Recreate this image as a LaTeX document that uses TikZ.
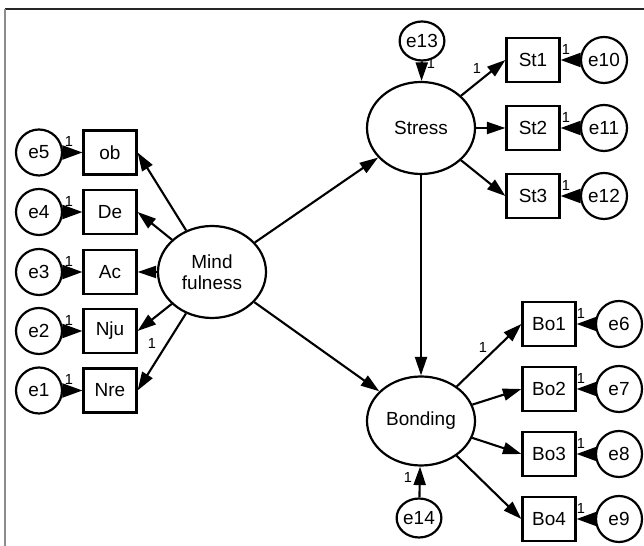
\documentclass[tikz,border=0pt]{standalone}
\usepackage{fontspec}
\setmainfont{Liberation Sans}
\usepackage{tikz}
\usetikzlibrary{shapes.geometric, arrows.meta}

\tikzset{
    latent/.style={draw, ellipse, line width=1.25pt, minimum width=2.16cm, minimum height=1.84cm, inner sep=0pt, align=center},
    obs/.style={draw, rectangle, line width=1.25pt, minimum width=1.06cm, minimum height=0.88cm, inner sep=0pt},
    err/.style={draw, circle, line width=1.25pt, minimum size=0.92cm, inner sep=0pt},
    smallerr/.style={draw, ellipse, line width=1.25pt, minimum width=0.84cm, minimum height=0.78cm, inner sep=0pt},
    regarrow/.style={line width=1.2pt, -{Triangle[length=3.7mm, width=2.4mm]}},
    errarrow/.style={line width=1.2pt, -{Triangle[length=4mm, width=2.8mm]}},
    one/.style={font=\fontsize{8.3}{10}\selectfont, inner sep=0pt},
}

\begin{document}
\begin{tikzpicture}[font=\fontsize{10.8}{12.2}\selectfont]
            \useasboundingbox (0,0) rectangle (12.88,10.92);
            \draw[black!85, line width=1pt] (0.1,10.74) -- (12.88,10.74);
            \draw[black!45, line width=1pt] (0.1,10.74) -- (0.1,0);

            % latent variables
            \node[latent] (mind) at (4.24, 5.48) {Mind\\fulness};
            \node[latent] (stress) at (8.42, 8.36) {Stress};
            \node[latent, minimum height=1.78cm] (bond) at (8.42, 2.50) {Bonding};

            % mindfulness indicators
            \node[obs] (ob) at (2.20, 7.87) {ob};
            \node[obs] (de) at (2.20, 6.68) {De};
            \node[obs] (ac) at (2.20, 5.48) {Ac};
            \node[obs] (nju) at (2.20, 4.30) {Nju};
            \node[obs] (nre) at (2.20, 3.11) {Nre};
            \node[err] (e5) at (0.78, 7.87) {e5};
            \node[err] (e4) at (0.78, 6.68) {e4};
            \node[err] (e3) at (0.78, 5.48) {e3};
            \node[err] (e2) at (0.78, 4.30) {e2};
            \node[err] (e1) at (0.78, 3.11) {e1};

            % stress indicators
            \node[obs] (st1) at (10.66, 9.72) {St1};
            \node[obs] (st2) at (10.66, 8.36) {St2};
            \node[obs] (st3) at (10.66, 7.00) {St3};
            \node[err] (e10) at (12.08, 9.72) {e10};
            \node[err] (e11) at (12.08, 8.36) {e11};
            \node[err] (e12) at (12.08, 7.00) {e12};

            % bonding indicators
            \node[obs] (bo1) at (10.98, 4.44) {Bo1};
            \node[obs] (bo2) at (10.98, 3.14) {Bo2};
            \node[obs] (bo3) at (10.98, 1.84) {Bo3};
            \node[obs] (bo4) at (10.98, 0.54) {Bo4};
            \node[err] (e6) at (12.38, 4.44) {e6};
            \node[err] (e7) at (12.38, 3.14) {e7};
            \node[err] (e8) at (12.38, 1.84) {e8};
            \node[err] (e9) at (12.38, 0.54) {e9};

            % disturbances
            \node[smallerr] (e13) at (8.44, 10.10) {e13};
            \node[smallerr] (e14) at (8.38, 0.56) {e14};

            \draw[regarrow] (mind) -- (stress); % mind-stress
            \draw[regarrow] (mind) -- (bond); % mind-bond
            \draw[regarrow] (stress) -- (bond); % stress-bond
            \draw[regarrow] (e13) -- (stress);
            \draw[regarrow] (e14) -- (bond);

            \draw[regarrow] (mind) -- (ob.east);
            \draw[regarrow] (mind) -- (de.east);
            \draw[regarrow] (mind) -- (ac.east);
            \draw[regarrow] (mind) -- (nju.east);
            \draw[regarrow] (mind) -- (nre.east);

            \draw[regarrow] (stress) -- (st1.west);
            \draw[regarrow] (stress) -- (st2.west);
            \draw[regarrow] (stress) -- (st3.west);

            \draw[regarrow] (bond) -- (bo1.west);
            \draw[regarrow] (bond) -- (bo2.west);
            \draw[regarrow] (bond) -- (bo3.west);
            \draw[regarrow] (bond) -- (bo4.west);

            \draw[errarrow] (e5) -- (ob);
            \draw[errarrow] (e4) -- (de);
            \draw[errarrow] (e3) -- (ac);
            \draw[errarrow] (e2) -- (nju);
            \draw[errarrow] (e1) -- (nre);
            \draw[errarrow] (e10) -- (st1);
            \draw[errarrow] (e11) -- (st2);
            \draw[errarrow] (e12) -- (st3);
            \draw[errarrow] (e6) -- (bo1);
            \draw[errarrow] (e7) -- (bo2);
            \draw[errarrow] (e8) -- (bo3);
            \draw[errarrow] (e9) -- (bo4);

            % fixed loadings
            \node[one] (o5) at (1.38, 8.09) {1};
            \node[one] (o4) at (1.38, 6.90) {1};
            \node[one] (o3) at (1.38, 5.70) {1};
            \node[one] (o2) at (1.38, 4.52) {1};
            \node[one] (o1) at (1.38, 3.33) {1};
            \node[one] (onre) at (3.04, 4.06) {1};
            \node[one] (o10) at (11.32, 9.94) {1};
            \node[one] (o11) at (11.32, 8.58) {1};
            \node[one] (o12) at (11.32, 7.22) {1};
            \node[one] (ost1) at (9.54, 9.56) {1};
            \node[one] (o13) at (8.62, 9.66) {1};
            \node[one] (o6) at (11.62, 4.66) {1};
            \node[one] (o7) at (11.62, 3.36) {1};
            \node[one] (o8) at (11.62, 2.06) {1};
            \node[one] (o9) at (11.62, 0.76) {1};
            \node[one] (obo1) at (9.66, 3.98) {1};
            \node[one] (o14) at (8.16, 1.38) {1};
\end{tikzpicture}
\end{document}
